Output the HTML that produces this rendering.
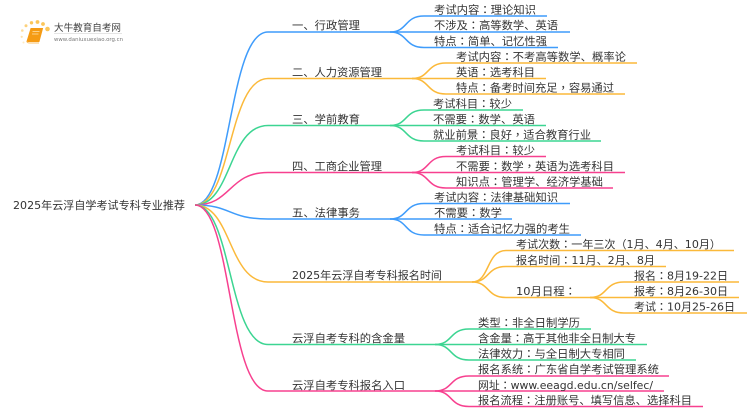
<!DOCTYPE html>
<html><head><meta charset="utf-8"><style>
html,body{margin:0;padding:0;background:#fff}
svg{display:block;filter:blur(.3px)}
text{font-family:"DejaVu Sans","WenQuanYi Zen Hei","Noto Sans CJK SC",sans-serif;font-size:11px;fill:#333}
.c{font-family:"Noto Sans CJK TC",sans-serif}
path{fill:none;stroke-width:1.5}
.b{stroke:#3f9cfb}.o{stroke:#fbb93a}.g{stroke:#3cd592}.p{stroke:#f7408f}
</style></head><body>
<svg width="750" height="410" viewBox="0 0 750 410" xmlns="http://www.w3.org/2000/svg">
<!-- logo -->
<g fill="#fbc65a">
<circle cx="47.5" cy="29" r="2.3"/><circle cx="43" cy="24" r="1.9"/><circle cx="37.5" cy="22" r="1.9"/><circle cx="31.5" cy="22.8" r="1.7"/><circle cx="26" cy="25.8" r="1.5" opacity=".8"/><circle cx="22.3" cy="30.5" r="1.3" opacity=".6"/><circle cx="21.7" cy="36.8" r="1.1" opacity=".5"/><circle cx="23.5" cy="42.5" r="1" opacity=".35"/>
</g>
<path d="M31 28.500H42.500L39 41.500H27Z" style="fill:#f59b14;stroke:#f59b14;stroke-width:1"/>
<path d="M27 41.500Q27 43 30 43H39" style="stroke:#f9c26b;stroke-width:1"/>
<path d="M32.500 31.500H39.500M32 34H38.500" style="stroke:#fde3ae;stroke-width:.8"/>
<text x="54" y="31" textLength="67" lengthAdjust="spacingAndGlyphs" style="font-size:9.500px;fill:#444">大牛教育自考网</text>
<path d="M54 33.500H122" style="stroke:#ddd;stroke-width:.7"/>
<text x="54" y="41" textLength="69" lengthAdjust="spacingAndGlyphs" style="font-size:5.500px;fill:#777">www.daniuxuexiao.org.cn</text>

<!-- root -->
<text x="13" y="209" textLength="172" lengthAdjust="spacingAndGlyphs" style="font-size:11px">2025年云浮自学考试专科专业推荐</text>

<!-- main branches -->
<path class="b" d="M195 205C232 205 228 32 268 32H390"/>
<path class="o" d="M195 205C232 205 228 78.500 268 78.500H412"/>
<path class="g" d="M195 205C232 205 228 125.500 268 125.500H390"/>
<path class="p" d="M195 205C232 205 228 172.500 268 172.500H412"/>
<path class="b" d="M195 205C232 205 228 219 268 219H390"/>
<path class="o" d="M195 205C232 205 228 282 268 282H472"/>
<path class="g" d="M195 205C232 205 228 344.500 268 344.500H435"/>
<path class="p" d="M195 205C232 205 228 391 268 391H435"/>

<!-- L1 labels -->
<text x="292" y="29" textLength="68" lengthAdjust="spacingAndGlyphs">一、行政管理</text>
<text x="292" y="76" textLength="90" lengthAdjust="spacingAndGlyphs">二、人力资源管理</text>
<text x="292" y="123" textLength="68" lengthAdjust="spacingAndGlyphs">三、学前教育</text>
<text x="292" y="170" textLength="90" lengthAdjust="spacingAndGlyphs">四、工商企业管理</text>
<text x="292" y="216.500" textLength="68" lengthAdjust="spacingAndGlyphs">五、法律事务</text>
<text x="292" y="279" textLength="150" lengthAdjust="spacingAndGlyphs">2025年云浮自考专科报名时间</text>
<text x="292" y="342" textLength="113" lengthAdjust="spacingAndGlyphs">云浮自考专科的含金量</text>
<text x="292" y="389" textLength="113" lengthAdjust="spacingAndGlyphs">云浮自考专科报名入口</text>

<!-- group 1 -->
<path class="b" d="M390 32C408 32 404 16 424 16H547"/>
<path class="b" d="M390 32H570"/>
<path class="b" d="M390 32C408 32 404 47.500 424 47.500H558"/>
<text x="434" y="13.500" textLength="102" lengthAdjust="spacingAndGlyphs">考试内容<tspan class="c">：</tspan>理论知识</text>
<text x="434" y="29" textLength="124" lengthAdjust="spacingAndGlyphs">不涉及<tspan class="c">：</tspan>高等数学、英语</text>
<text x="434" y="45" textLength="113" lengthAdjust="spacingAndGlyphs">特点<tspan class="c">：</tspan>简单、记忆性强</text>

<!-- group 2 -->
<path class="o" d="M412 78.500C430 78.500 426 63 446 63H637"/>
<path class="o" d="M412 78.500H546"/>
<path class="o" d="M412 78.500C430 78.500 426 94 446 94H625"/>
<text x="456" y="60.500" textLength="170" lengthAdjust="spacingAndGlyphs">考试内容<tspan class="c">：</tspan>不考高等数学、概率论</text>
<text x="456" y="76" textLength="79" lengthAdjust="spacingAndGlyphs">英语<tspan class="c">：</tspan>选考科目</text>
<text x="456" y="91.500" textLength="158" lengthAdjust="spacingAndGlyphs">特点<tspan class="c">：</tspan>备考时间充足<tspan class="c">，</tspan>容易通过</text>

<!-- group 3 -->
<path class="g" d="M390 125.500C408 125.500 404 110 424 110H523"/>
<path class="g" d="M390 125.500H546"/>
<path class="g" d="M390 125.500C408 125.500 404 141 424 141H601"/>
<text x="433" y="107.500" textLength="79" lengthAdjust="spacingAndGlyphs">考试科目<tspan class="c">：</tspan>较少</text>
<text x="433" y="123" textLength="102" lengthAdjust="spacingAndGlyphs">不需要<tspan class="c">：</tspan>数学、英语</text>
<text x="433" y="138.500" textLength="158" lengthAdjust="spacingAndGlyphs">就业前景<tspan class="c">：</tspan>良好<tspan class="c">，</tspan>适合教育行业</text>

<!-- group 4 -->
<path class="p" d="M412 172.500C430 172.500 426 156.500 446 156.500H546"/>
<path class="p" d="M412 172.500H625"/>
<path class="p" d="M412 172.500C430 172.500 426 188 446 188H613"/>
<text x="456" y="154" textLength="79" lengthAdjust="spacingAndGlyphs">考试科目<tspan class="c">：</tspan>较少</text>
<text x="456" y="170" textLength="158" lengthAdjust="spacingAndGlyphs">不需要<tspan class="c">：</tspan>数学<tspan class="c">，</tspan>英语为选考科目</text>
<text x="456" y="185.500" textLength="147" lengthAdjust="spacingAndGlyphs">知识点<tspan class="c">：</tspan>管理学、经济学基础</text>

<!-- group 5 -->
<path class="b" d="M390 219C408 219 404 203.500 424 203.500H570"/>
<path class="b" d="M390 219H512"/>
<path class="b" d="M390 219C408 219 404 235 424 235H581"/>
<text x="434" y="201" textLength="124" lengthAdjust="spacingAndGlyphs">考试内容<tspan class="c">：</tspan>法律基础知识</text>
<text x="434" y="216.500" textLength="68" lengthAdjust="spacingAndGlyphs">不需要<tspan class="c">：</tspan>数学</text>
<text x="434" y="232.500" textLength="136" lengthAdjust="spacingAndGlyphs">特点<tspan class="c">：</tspan>适合记忆力强的考生</text>

<!-- group 6 -->
<path class="o" d="M472 282C490 282 486 250.500 506 250.500H734"/>
<path class="o" d="M472 282C490 282 486 266.500 506 266.500H666"/>
<path class="o" d="M472 282C490 282 486 297.500 506 297.500H590"/>
<text x="516" y="248" textLength="205" lengthAdjust="spacingAndGlyphs">考试次数<tspan class="c">：</tspan>一年三次<tspan class="c">（</tspan>1月、4月、10月<tspan class="c">）</tspan></text>
<text x="516" y="264" textLength="139" lengthAdjust="spacingAndGlyphs">报名时间<tspan class="c">：</tspan>11月、2月、8月</text>
<text x="516" y="295" textLength="60" lengthAdjust="spacingAndGlyphs">10月日程<tspan class="c">：</tspan></text>
<path class="o" d="M590 297.500C608 297.500 604 282 624 282H739"/>
<path class="o" d="M590 297.500H739"/>
<path class="o" d="M590 297.500C608 297.500 604 313 624 313H747"/>
<text x="634" y="279.500" textLength="94" lengthAdjust="spacingAndGlyphs">报名<tspan class="c">：</tspan>8月19-22日</text>
<text x="634" y="295" textLength="94" lengthAdjust="spacingAndGlyphs">报考<tspan class="c">：</tspan>8月26-30日</text>
<text x="634" y="310.500" textLength="101" lengthAdjust="spacingAndGlyphs">考试<tspan class="c">：</tspan>10月25-26日</text>

<!-- group 7 -->
<path class="g" d="M435 344.500C453 344.500 449 329 469 329H591"/>
<path class="g" d="M435 344.500H647"/>
<path class="g" d="M435 344.500C453 344.500 449 360 469 360H636"/>
<text x="478" y="326.500" textLength="102" lengthAdjust="spacingAndGlyphs">类型<tspan class="c">：</tspan>非全日制学历</text>
<text x="478" y="342" textLength="158" lengthAdjust="spacingAndGlyphs">含金量<tspan class="c">：</tspan>高于其他非全日制大专</text>
<text x="478" y="357.500" textLength="147" lengthAdjust="spacingAndGlyphs">法律效力<tspan class="c">：</tspan>与全日制大专相同</text>

<!-- group 8 -->
<path class="p" d="M435 391C453 391 449 376 469 376H669"/>
<path class="p" d="M435 391H664"/>
<path class="p" d="M435 391C453 391 449 406.500 469 406.500H703"/>
<text x="478" y="373" textLength="181" lengthAdjust="spacingAndGlyphs">报名系统<tspan class="c">：</tspan>广东省自学考试管理系统</text>
<text x="478" y="389" textLength="175" lengthAdjust="spacingAndGlyphs">网址<tspan class="c">：</tspan>www.eeagd.edu.cn/selfec/</text>
<text x="478" y="404" textLength="214" lengthAdjust="spacingAndGlyphs">报名流程<tspan class="c">：</tspan>注册账号、填写信息、选择科目</text>
</svg>
</body></html>
